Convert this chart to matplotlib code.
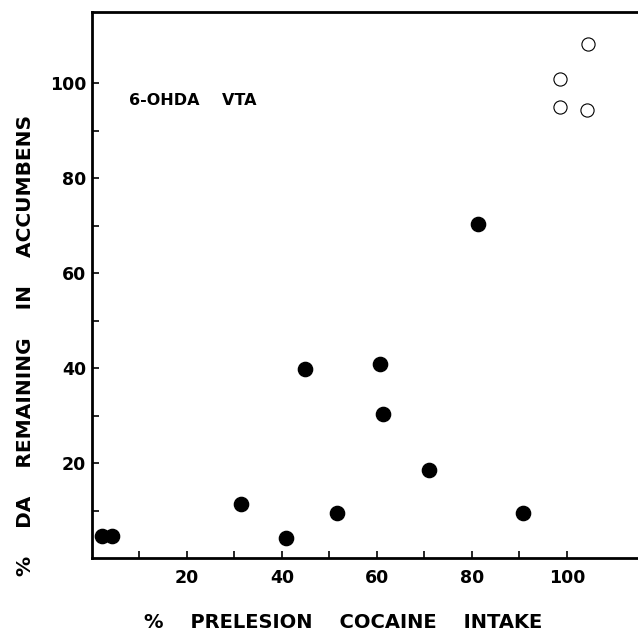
import matplotlib.pyplot as plt
from matplotlib.ticker import FixedLocator

# lesioned rats (filled) and controls (open)
lesion_x = [2.1, 4.2, 31.5, 40.8, 44.8, 51.6, 60.7, 61.3, 71.0, 81.4, 90.7]
lesion_y = [4.6, 4.6, 11.4, 4.2, 39.8, 9.5, 40.8, 30.3, 18.5, 70.3, 9.5]
control_x = [98.5, 98.5, 104.2, 104.4]
control_y = [95.0, 100.8, 94.3, 108.2]

ticks = [10, 20, 30, 40, 50, 60, 70, 80, 90, 100]
tick_labels = ["", "20", "", "40", "", "60", "", "80", "", "100"]

plt.rcParams['font.family'] = ['DejaVu Sans']
plt.rcParams['font.weight'] = 'bold'

fig = plt.figure(figsize=(6.38, 6.35), dpi=100)
ax = fig.add_axes([0.144, 0.121, 0.856, 0.86])

ax.scatter(lesion_x, lesion_y, s=105, color="black", zorder=3)
ax.scatter(control_x, control_y, s=90, facecolor="white", edgecolor="black",
           linewidths=0.8, zorder=3)

ax.set_xlim(0, 115)
ax.set_ylim(0, 115)

ax.xaxis.set_major_locator(FixedLocator(ticks))
ax.yaxis.set_major_locator(FixedLocator(ticks))
ax.set_xticklabels(tick_labels)
ax.set_yticklabels(tick_labels)
ax.tick_params(direction="in", length=5, width=1.2, labelsize=12.5)
ax.tick_params(axis="x", pad=8)
ax.tick_params(axis="y", pad=4)

for side in ["left", "bottom", "top"]:
    ax.spines[side].set_linewidth(2)
ax.spines["right"].set_visible(False)

ax.text(7.8, 96.4, "6-OHDA    VTA", fontsize=11.5, fontweight="bold", va="center")

ax.set_xlabel("%    PRELESION    COCAINE    INTAKE",
              fontsize=14, fontweight="bold")
ax.xaxis.set_label_coords(0.46, -0.1)
ax.set_ylabel("%    DA    REMAINING    IN    ACCUMBENS",
              fontsize=14.5, fontweight="bold")
ax.yaxis.set_label_coords(-0.105, 0.39)

plt.savefig("out.png", dpi=100)
